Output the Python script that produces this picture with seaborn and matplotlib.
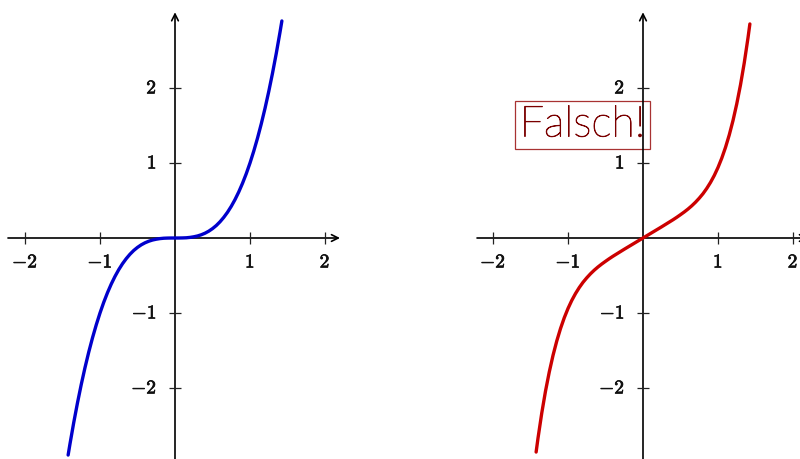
import matplotlib
matplotlib.use("Agg")
import matplotlib.pyplot as plt
import matplotlib.patheffects as pe
import seaborn as sns
import pandas as pd

sns.set_theme(style="white")
plt.rcParams["mathtext.fontset"] = "cm"

# data
x_vals = [-1.425, -1.4, -1.35, -1.3, -1.25, -1.2, -1.15, -1.1, -1.05, -1.0, -0.95, -0.9,
          -0.85, -0.8, -0.75, -0.7, -0.65, -0.6, -0.55, -0.5, -0.45, -0.4, -0.35, -0.3,
          -0.25, -0.2, -0.15, -0.1, -0.05, 0.0, 0.05, 0.1, 0.15, 0.2, 0.25, 0.3, 0.35, 0.4,
          0.45, 0.5, 0.55, 0.6, 0.65, 0.7, 0.75, 0.8, 0.85, 0.9, 0.95, 1.0, 1.05, 1.1, 1.15,
          1.2, 1.25, 1.3, 1.35, 1.4, 1.425]
left_y = [-2.894, -2.744, -2.460, -2.197, -1.953, -1.728, -1.521, -1.331, -1.158, -1.0,
          -0.857, -0.729, -0.614, -0.512, -0.422, -0.343, -0.275, -0.216, -0.166, -0.125,
          -0.091, -0.064, -0.043, -0.027, -0.016, -0.008, -0.003, -0.001, -0.0001, 0.0,
          0.0001, 0.001, 0.003, 0.008, 0.016, 0.027, 0.043, 0.064, 0.091, 0.125, 0.166,
          0.216, 0.275, 0.343, 0.422, 0.512, 0.614, 0.729, 0.857, 1.0, 1.158, 1.331, 1.521,
          1.728, 1.953, 2.197, 2.460, 2.744, 2.894]
right_y = [-2.854, -2.669, -2.335, -2.042, -1.788, -1.566, -1.374, -1.208, -1.064, -0.94,
           -0.833, -0.741, -0.661, -0.591, -0.531, -0.477, -0.429, -0.386, -0.347, -0.311,
           -0.276, -0.243, -0.212, -0.181, -0.15, -0.12, -0.09, -0.06, -0.03, 0.0,
           0.03, 0.06, 0.09, 0.12, 0.15, 0.181, 0.212, 0.243, 0.276, 0.311, 0.347,
           0.386, 0.429, 0.477, 0.531, 0.591, 0.661, 0.741, 0.833, 0.94, 1.064, 1.208, 1.374,
           1.566, 1.788, 2.042, 2.335, 2.669, 2.854]
tick_vals = [-2, -1, 1, 2]
tick_labels = ["$-2$", "$-1$", "$1$", "$2$"]
note_text = "Falsch!"

df = pd.DataFrame({"x": x_vals, "left": left_y, "right": right_y})

fig = plt.figure(figsize=(8, 4.59), dpi=100)
axL = fig.add_axes([0, 0, 0.5, 1])
axR = fig.add_axes([0.5, 0, 0.5, 1])

U = 75.0  # pixels per unit
y0 = 238.0
axL.set_xlim(-175 / U, 225 / U)
axR.set_xlim((400 - 643) / U, (800 - 643) / U)
for ax in (axL, axR):
    ax.set_ylim((y0 - 459) / U, y0 / U)
    ax.axis("off")

bold = [pe.withStroke(linewidth=0.5, foreground="#111111")]

def draw_axes(ax, xstart):
    ap = dict(arrowstyle="->", lw=1.2, color="black", shrinkA=0, shrinkB=0,
              mutation_scale=12)
    ax.annotate("", xy=(2.2, 0), xytext=(xstart, 0), arrowprops=ap,
                annotation_clip=False, zorder=2)
    ax.annotate("", xy=(0, 3.01), xytext=(0, -3.1), arrowprops=ap,
                annotation_clip=False, zorder=2)
    ax.plot(tick_vals, [0] * 4, ls="", marker="|", ms=9, mew=0.9, color="#222222",
            zorder=2, clip_on=False)
    ax.plot([0] * 4, tick_vals, ls="", marker="_", ms=9, mew=0.9, color="#222222",
            zorder=2, clip_on=False)
    for v, lab in zip(tick_vals, tick_labels):
        ax.text(v, -0.32, lab, ha="center", va="center", fontsize=14, color="#111111",
                clip_on=False, path_effects=bold)
        ax.text(-0.24, v, lab, ha="right", va="center", fontsize=14, color="#111111",
                path_effects=bold)

draw_axes(axL, -2.227)
draw_axes(axR, -2.213)

sns.lineplot(data=df, x="x", y="left", ax=axL, color="#0000CC", lw=2.4, sort=False,
             legend=False, zorder=3)
sns.lineplot(data=df, x="x", y="right", ax=axR, color="#CC0000", lw=2.4, sort=False,
             legend=False, zorder=3)
for ax in (axL, axR):
    ax.axis("off")

axR.text(-0.807, 1.507, note_text, ha="center", va="center", fontsize=31,
         family=["Lato", "DejaVu Sans"], fontweight="light", color="#7A0000", zorder=1,
         path_effects=[pe.withStroke(linewidth=0.6, foreground="#7A0000")],
         bbox=dict(boxstyle="square,pad=0.1", fc="none", ec="#A83232", lw=0.9))

fig.savefig("out.png", dpi=100)
